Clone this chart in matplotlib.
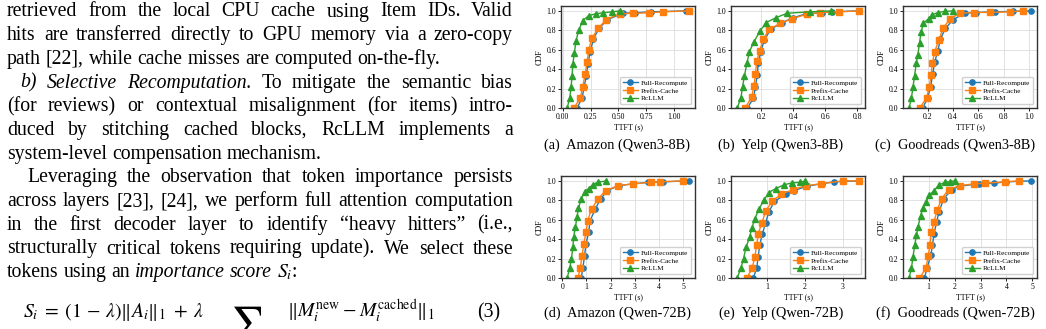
import matplotlib
matplotlib.use("Agg")
import matplotlib.pyplot as plt

W, H = 1046, 329
plt.rcParams['font.family'] = 'serif'
plt.rcParams['font.serif'] = ['Liberation Serif', 'DejaVu Serif']
plt.rcParams['mathtext.fontset'] = 'stix'

# ---- data (TTFT in seconds, CDF) ----
series_names = ['Full-Recompute', 'Prefix-Cache', 'RcLLM']
captions = ['(a)  Amazon (Qwen3-8B)', '(b)  Yelp (Qwen3-8B)', '(c)  Goodreads (Qwen3-8B)',
            '(d)  Amazon (Qwen-72B)', '(e)  Yelp (Qwen-72B)', '(f)  Goodreads (Qwen-72B)']

# (a) Amazon, Qwen3-8B
a_full_x = [0.127, 0.172, 0.192, 0.210, 0.225, 0.246, 0.275, 0.325, 0.400, 0.541, 0.645, 0.793, 1.104]
a_full_y = [0.0, 0.10, 0.22, 0.33, 0.45, 0.58, 0.71, 0.82, 0.91, 0.975, 0.98, 0.99, 1.0]
a_pref_x = [0.098, 0.157, 0.178, 0.201, 0.216, 0.234, 0.260, 0.320, 0.388, 0.512, 0.630, 0.778, 0.902, 1.133]
a_pref_y = [0.0, 0.10, 0.22, 0.35, 0.47, 0.60, 0.72, 0.82, 0.91, 0.97, 0.975, 0.98, 0.99, 1.0]
a_rc_x = [0.038, 0.062, 0.074, 0.083, 0.089, 0.104, 0.118, 0.142, 0.180, 0.231, 0.296, 0.364, 0.438, 0.512]
a_rc_y = [0.0, 0.10, 0.22, 0.33, 0.45, 0.57, 0.69, 0.80, 0.90, 0.95, 0.97, 0.98, 0.99, 1.0]

# (b) Yelp, Qwen3-8B
b_full_x = [0.112, 0.150, 0.163, 0.173, 0.181, 0.196, 0.218, 0.258, 0.330, 0.400, 0.480, 0.576, 0.640, 0.809]
b_full_y = [0.0, 0.10, 0.22, 0.34, 0.46, 0.58, 0.70, 0.81, 0.88, 0.93, 0.97, 0.98, 0.99, 1.0]
b_pref_x = [0.098, 0.139, 0.153, 0.163, 0.170, 0.190, 0.210, 0.250, 0.316, 0.393, 0.484, 0.565, 0.687, 0.809]
b_pref_y = [0.0, 0.11, 0.23, 0.35, 0.48, 0.59, 0.71, 0.81, 0.87, 0.92, 0.966, 0.983, 0.99, 1.0]
b_rc_x = [0.048, 0.072, 0.082, 0.094, 0.109, 0.125, 0.153, 0.190, 0.230, 0.291, 0.362, 0.505, 0.637]
b_rc_y = [0.0, 0.10, 0.22, 0.33, 0.46, 0.58, 0.68, 0.79, 0.88, 0.93, 0.976, 0.99, 1.0]

# (c) Goodreads, Qwen3-8B
c_full_x = [0.162, 0.200, 0.225, 0.240, 0.256, 0.281, 0.302, 0.340, 0.403, 0.492, 0.581, 0.733, 0.873, 1.013]
c_full_y = [0.0, 0.10, 0.22, 0.345, 0.47, 0.59, 0.71, 0.82, 0.91, 0.976, 0.983, 0.99, 0.995, 1.0]
c_pref_x = [0.137, 0.192, 0.213, 0.228, 0.238, 0.256, 0.289, 0.322, 0.378, 0.454, 0.568, 0.695, 0.848, 0.950]
c_pref_y = [0.0, 0.10, 0.22, 0.34, 0.46, 0.58, 0.70, 0.82, 0.92, 0.976, 0.983, 0.985, 0.99, 1.0]
c_rc_x = [0.055, 0.073, 0.086, 0.098, 0.111, 0.124, 0.137, 0.149, 0.167, 0.208, 0.238, 0.281, 0.340, 0.403]
c_rc_y = [0.0, 0.10, 0.22, 0.33, 0.46, 0.55, 0.67, 0.78, 0.87, 0.92, 0.96, 0.983, 0.995, 1.0]

# (d) Amazon, Qwen-72B
d_full_x = [0.78, 0.85, 0.92, 0.98, 1.09, 1.15, 1.36, 1.59, 1.86, 2.33, 2.94, 3.54, 4.15, 5.23]
d_full_y = [0.0, 0.10, 0.23, 0.35, 0.47, 0.59, 0.71, 0.815, 0.90, 0.95, 0.97, 0.985, 0.99, 1.0]
d_pref_x = [0.65, 0.74, 0.82, 0.89, 0.98, 1.05, 1.21, 1.48, 1.79, 2.30, 2.94, 3.68, 4.02, 5.00]
d_pref_y = [0.0, 0.10, 0.23, 0.35, 0.47, 0.59, 0.71, 0.815, 0.90, 0.95, 0.97, 0.985, 0.99, 1.0]
d_rc_x = [0.20, 0.31, 0.38, 0.44, 0.47, 0.54, 0.61, 0.67, 0.78, 0.92, 1.09, 1.25, 1.46, 1.82]
d_rc_y = [0.0, 0.10, 0.20, 0.32, 0.42, 0.52, 0.63, 0.72, 0.81, 0.89, 0.92, 0.96, 0.985, 1.0]

# (e) Yelp, Qwen-72B
e_full_x = [0.63, 0.72, 0.76, 0.80, 0.87, 0.96, 1.04, 1.19, 1.49, 1.71, 2.05, 2.44, 2.78, 3.43]
e_full_y = [0.0, 0.10, 0.22, 0.34, 0.455, 0.57, 0.68, 0.79, 0.86, 0.90, 0.945, 0.97, 0.99, 1.0]
e_pref_x = [0.46, 0.60, 0.67, 0.72, 0.76, 0.86, 0.96, 1.13, 1.36, 1.68, 2.03, 2.42, 3.00, 3.43]
e_pref_y = [0.0, 0.10, 0.22, 0.34, 0.455, 0.57, 0.69, 0.79, 0.86, 0.91, 0.95, 0.97, 1.0, 1.0]
e_rc_x = [0.20, 0.30, 0.37, 0.44, 0.53, 0.59, 0.67, 0.78, 0.91, 1.04, 1.22, 1.45, 1.66, 1.88, 2.01]
e_rc_y = [0.0, 0.10, 0.20, 0.32, 0.42, 0.51, 0.61, 0.71, 0.80, 0.88, 0.92, 0.96, 0.98, 0.985, 1.0]

# (f) Goodreads, Qwen-72B
f_full_x = [0.84, 0.94, 1.09, 1.15, 1.21, 1.31, 1.40, 1.58, 1.89, 2.20, 2.93, 3.51, 4.00, 4.94]
f_full_y = [0.0, 0.10, 0.24, 0.34, 0.455, 0.58, 0.68, 0.815, 0.91, 0.945, 0.97, 0.976, 0.99, 1.0]
f_pref_x = [0.65, 0.90, 0.99, 1.05, 1.11, 1.21, 1.34, 1.50, 1.77, 2.20, 2.76, 3.17, 3.94, 4.50]
f_pref_y = [0.0, 0.10, 0.23, 0.34, 0.47, 0.58, 0.705, 0.815, 0.91, 0.95, 0.97, 0.976, 0.99, 1.0]
f_rc_x = [0.25, 0.34, 0.40, 0.47, 0.53, 0.59, 0.69, 0.78, 0.90, 1.02, 1.21, 1.40, 1.65, 1.83, 2.02]
f_rc_y = [0.0, 0.10, 0.22, 0.34, 0.44, 0.52, 0.64, 0.72, 0.78, 0.85, 0.90, 0.96, 0.985, 0.993, 1.0]

xticks_top = [[0.0, 0.25, 0.5, 0.75, 1.0], [0.2, 0.4, 0.6, 0.8], [0.2, 0.4, 0.6, 0.8, 1.0]]
xticks_bot = [[0, 1, 2, 3, 4, 5], [1, 2, 3], [1, 2, 3, 4, 5]]
yticks = [0.0, 0.2, 0.4, 0.6, 0.8, 1.0]

panels = [
    (a_full_x, a_full_y, a_pref_x, a_pref_y, a_rc_x, a_rc_y),
    (b_full_x, b_full_y, b_pref_x, b_pref_y, b_rc_x, b_rc_y),
    (c_full_x, c_full_y, c_pref_x, c_pref_y, c_rc_x, c_rc_y),
    (d_full_x, d_full_y, d_pref_x, d_pref_y, d_rc_x, d_rc_y),
    (e_full_x, e_full_y, e_pref_x, e_pref_y, e_rc_x, e_rc_y),
    (f_full_x, f_full_y, f_pref_x, f_pref_y, f_rc_x, f_rc_y),
]
xtick_lists = xticks_top + xticks_bot
xtick_fmt = ['%.2f', '%.1f', '%.1f', '%d', '%d', '%d']

# body text of the left column
body_lines = [
    "retrieved from the local CPU cache using Item IDs. Valid",
    "hits are transferred directly to GPU memory via a zero-copy",
    "path [22], while cache misses are computed on-the-fly.",
    "*b) *Selective *Recomputation. To mitigate the semantic bias",
    "(for reviews) or contextual misalignment (for items) intro-",
    "duced by stitching cached blocks, RcLLM implements a",
    "system-level compensation mechanism.",
    "Leveraging the observation that token importance persists",
    "across layers [23], [24], we perform full attention computation",
    "in the first decoder layer to identify \u201cheavy hitters\u201d (i.e.,",
    "structurally critical tokens requiring update). We select these",
    "tokens using an *importance *score $S_i$:",
]
line_indent = [0, 0, 0, 13, 0, 0, 0, 20, 0, 0, 0, 0]
line_justify = [True, True, False, True, True, True, False, True, True, True, True, False]

fig = plt.figure(figsize=(W / 100, H / 100), dpi=100)
renderer = fig.canvas.get_renderer()

BODY_FS = 14.2
X0, X1 = 7, 513


def put_line(text, y, x0, x1, justify):
    objs = []
    for w in text.split(' '):
        style = 'normal'
        if w.startswith('*'):
            w = w[1:]
            style = 'italic'
        objs.append(fig.text(0, 1 - y / H, w, fontsize=BODY_FS, style=style, va='baseline'))
    widths = [o.get_window_extent(renderer).width for o in objs]
    if justify:
        gap = (x1 - x0 - sum(widths)) / (len(objs) - 1)
    else:
        gap = 0.25 * BODY_FS * 100 / 72
    x = x0
    for o, wd in zip(objs, widths):
        o.set_x(x / W)
        x += wd + gap


for i, line in enumerate(body_lines):
    put_line(line, 16.5 + 23.7 * i, X0 + line_indent[i], X1, line_justify[i])

# equation (3), bottom cut off by the page edge
fig.text(23 / W, 1 - 317 / H, r'$S_i\;=\;(1\,-\,\lambda)\|A_i\|_1\;+\;\lambda$', fontsize=BODY_FS, va='baseline')
fig.text(230 / W, 1 - 304 / H, r'$\sum$', fontsize=26, va='top')
fig.text(287 / W, 1 - 317 / H, r'$\|M_i^{\mathrm{new}} - M_i^{\mathrm{cached}}\|_1$', fontsize=BODY_FS, va='baseline')
fig.text(500 / W, 1 - 317 / H, '(3)', fontsize=BODY_FS, va='baseline', ha='right')

# ---- CDF panels ----
ax_left = [561, 731, 903]
ax_top = [6, 176]
ax_w, ax_h = 134, 102
cap_x = [617, 781, 955]
cap_y = [149, 317]

colors = ['#1f77b4', '#ff7f0e', '#2ca02c']
markers = ['o', 's', '^']
msizes = [3.8, 4.6, 4.2]

for k, data in enumerate(panels):
    r, c = divmod(k, 3)
    ax = fig.add_axes([ax_left[c] / W, 1 - (ax_top[r] + ax_h) / H, ax_w / W, ax_h / H])
    for s in range(3):
        ax.plot(data[2 * s], data[2 * s + 1], color=colors[s], marker=markers[s],
                markersize=msizes[s], lw=1.0, label=series_names[s])
    ax.set_ylim(0, 1.05)
    ax.set_yticks(yticks)
    ax.set_xticks(xtick_lists[k])
    ax.set_xticklabels([xtick_fmt[k] % v for v in xtick_lists[k]])
    ax.set_yticklabels(['%.1f' % v for v in yticks])
    ax.tick_params(labelsize=5.6, length=2, width=0.6, pad=1.5)
    ax.grid(True, color='#dddddd', lw=0.6)
    ax.set_axisbelow(True)
    for sp in ax.spines.values():
        sp.set_color('#333333')
        sp.set_linewidth(1.0)
    ax.set_xlabel('TTFT (s)', fontsize=5.8, labelpad=1.5)
    ax.set_ylabel('CDF', fontsize=5.8, labelpad=2)
    ax.legend(loc='lower right', fontsize=5.2, handlelength=2.0, labelspacing=0.25,
              borderpad=0.4, handletextpad=0.5, framealpha=0.9, edgecolor='#cccccc')
    fig.text(cap_x[c] / W, 1 - cap_y[r] / H, captions[k], fontsize=10.3, ha='center', va='baseline')

fig.savefig('out.png', dpi=100)
